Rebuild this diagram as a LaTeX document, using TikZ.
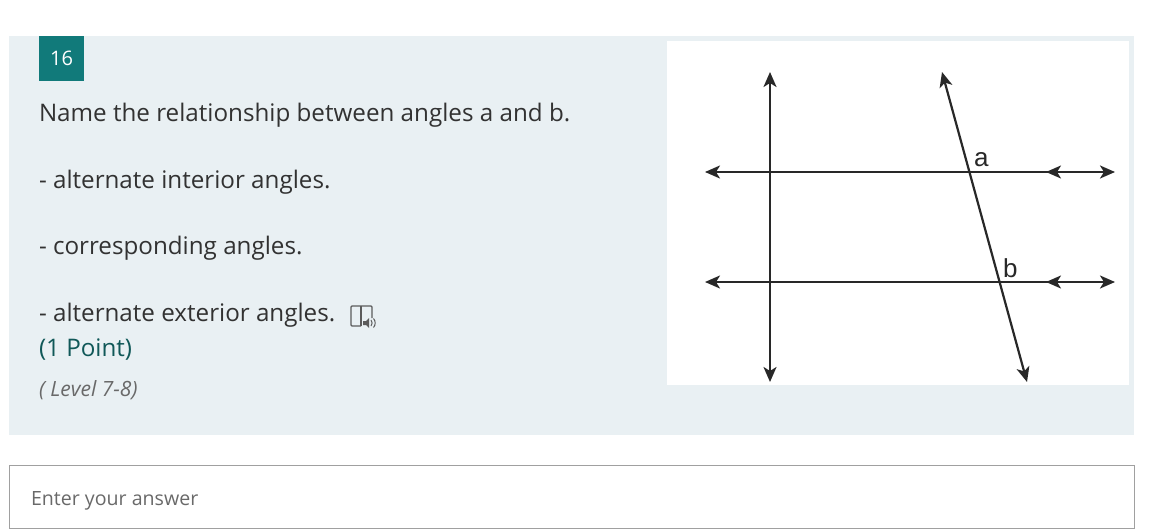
\documentclass[tikz,border=0pt]{standalone}
\usepackage{fontspec}
\setmainfont{Open Sans}
\newfontfamily\figfont{Liberation Sans}
\usetikzlibrary{arrows.meta}

\definecolor{panelbg}{RGB}{233,240,243}
\definecolor{badgeteal}{RGB}{17,122,122}
\definecolor{bodytext}{RGB}{50,50,50}
\definecolor{pointteal}{RGB}{16,88,88}
\definecolor{hinttext}{RGB}{105,105,105}
\definecolor{lineink}{RGB}{40,40,40}
\definecolor{boxedge}{RGB}{160,160,160}

\begin{document}
\begin{tikzpicture}[
    x=1pt, y=-1pt,
    every node/.style={inner sep=0pt, outer sep=0pt},
    question/.style={anchor=base west, text=bodytext, font=\fontsize{24.2}{28}\selectfont},
    option/.style={question},
    hint/.style={anchor=base west, text=hinttext, font=\fontsize{21}{24}\selectfont\itshape},
    tip/.style={Stealth[length=15pt, width=13pt, inset=4pt]},
    geoline/.style={draw=lineink, line width=2.2pt, {Stealth[length=15pt, width=13pt, inset=4pt]}-{Stealth[length=15pt, width=13pt, inset=4pt]}},
    markline/.style={draw=lineink, line width=2.2pt, -{Stealth[length=15pt, width=13pt, inset=4pt]}},
    angletext/.style={text=lineink, font=\figfont\fontsize{26}{28}\selectfont, anchor=base west},
    readericon/.style={draw=bodytext!80, line width=1.3pt}
]
\useasboundingbox (0,0) rectangle (1156,532);

% question card
\fill[panelbg] (9,36) rectangle (1134,435);
\node[fill=badgeteal, minimum width=45pt, minimum height=45pt, anchor=north west,
      text=white, font=\fontsize{20}{23}\selectfont] (badge) at (39,36) {16};

% question text and choices
\node[question] (qtext) at (39,122) {Name the relationship between angles a and b.};
\node[option] (optA) at (39,188) {- alternate interior angles.};
\node[option] (optB) at (39,254) {- corresponding angles.};
\node[option] (optC) at (39,321) {- alternate exterior angles.};
\node[question, text=pointteal] (points) at (39,356) {(1 Point)};
\node[hint] (level) at (39,396) {( Level 7-8)};

% immersive reader icon
\draw[readericon, rounded corners=1pt] (361,326) -- (351,326) -- (351,306) -- (372,306) -- (372,318);
\draw[readericon] (361,306) -- (361,326);
\fill[bodytext!80] (363,321) -- (366,321) -- (369,318) -- (369,328) -- (366,325) -- (363,325) -- cycle;
\draw[bodytext!80, line width=1pt] (371,320) to[bend left=40] (371,326);
\draw[bodytext!80, line width=1pt] (373.5,318.5) to[bend left=40] (373.5,327.5);

% figure
\fill[white] (667,41) rectangle (1129,385);
\coordinate (vtop) at (770,72);
\coordinate (vbot) at (770,382);
\coordinate (tA) at (705,172);
\coordinate (tB) at (1115,172);
\coordinate (tC) at (705,282);
\coordinate (tD) at (1115,282);
\coordinate (mA) at (1046,172);
\coordinate (mB) at (1046,282);
\coordinate (nA) at (1070,172);
\coordinate (nB) at (1070,282);
\coordinate (strop) at (942,72);
\coordinate (strbot) at (1027,382);

\draw[geoline] (vbot) -- (vtop);
\draw[geoline] (tA) -- (tB);
\draw[geoline] (tC) -- (tD);
\draw[geoline] (strbot) -- (strop);
\draw[markline] (nA) -- (mA);
\draw[markline] (nB) -- (mB);

\node[angletext] (angA) at (974,166) {a};
\node[angletext] (angB) at (1003,277) {b};

% answer box
\node[draw=boxedge, line width=1pt, minimum width=1125pt, minimum height=63pt,
      anchor=north west] (answer) at (9,465) {};
\node[hint, font=\fontsize{19.6}{22}\selectfont] (answertext) at (31,505) {Enter your answer};

\end{tikzpicture}
\end{document}
